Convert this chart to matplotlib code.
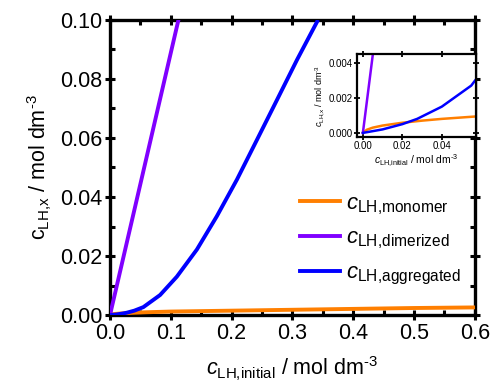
import matplotlib
matplotlib.use("Agg")
import matplotlib.pyplot as plt
from matplotlib.ticker import MultipleLocator, FormatStrFormatter

plt.rcParams['font.family'] = ['Liberation Sans', 'DejaVu Sans']
plt.rcParams['mathtext.fontset'] = 'custom'
plt.rcParams['mathtext.rm'] = 'Liberation Sans'
plt.rcParams['mathtext.it'] = 'Liberation Sans:italic'
plt.rcParams['mathtext.bf'] = 'Liberation Sans:bold'
plt.rcParams['lines.solid_joinstyle'] = 'round'

# Data
x_mono = [0, 0.002, 0.005, 0.01, 0.02, 0.03, 0.04, 0.05, 0.06, 0.1, 0.2, 0.3, 0.4, 0.5, 0.6]
y_mono = [0, 0.00018, 0.0003, 0.00042, 0.00058, 0.0007, 0.0008, 0.00088, 0.00096, 0.0012, 0.0015, 0.0018, 0.0021, 0.0024, 0.0026]

x_dim = [0, 0.1126]
y_dim = [0, 0.100]

x_agg = [0, 0.01, 0.02, 0.0275, 0.04, 0.0549, 0.0824, 0.1099, 0.1429, 0.1758, 0.2088, 0.2418, 0.2747, 0.3077, 0.3407]
y_agg = [0, 0.0002, 0.0005, 0.0008, 0.0015, 0.0027, 0.0068, 0.0130, 0.0222, 0.0335, 0.0459, 0.0594, 0.0729, 0.0865, 0.0994]

labels = [r'$\mathit{c}_{\mathrm{LH{,}monomer}}$',
          r'$\mathit{c}_{\mathrm{LH{,}dimerized}}$',
          r'$\mathit{c}_{\mathrm{LH{,}aggregated}}$']
colors = ['#ff7f00', '#8000ff', '#0000ff']

fig = plt.figure(figsize=(4.91, 3.89), dpi=100)
ax = fig.add_axes([0.224, 0.190, 0.743, 0.759])
lw = 2.8
ax.plot(x_mono, y_mono, color=colors[0], lw=lw, label=labels[0], zorder=3)
ax.plot(x_dim, y_dim, color=colors[1], lw=lw, label=labels[1], zorder=3)
ax.plot(x_agg, y_agg, color=colors[2], lw=lw, label=labels[2], zorder=3)
ax.set_xlim(0, 0.6)
ax.set_ylim(0, 0.1)
ax.xaxis.set_major_locator(MultipleLocator(0.1))
ax.xaxis.set_minor_locator(MultipleLocator(0.05))
ax.yaxis.set_major_locator(MultipleLocator(0.02))
ax.yaxis.set_minor_locator(MultipleLocator(0.01))
ax.xaxis.set_major_formatter(FormatStrFormatter('%.1f'))
ax.yaxis.set_major_formatter(FormatStrFormatter('%.2f'))
for s in ax.spines.values():
    s.set_linewidth(2.4)
ax.tick_params(which='major', direction='inout', length=7, width=2.2, labelsize=15.5,
               top=True, right=True, pad=2)
ax.tick_params(which='minor', direction='in', length=3.5, width=2.2, top=True, right=True)
ax.set_xlabel(r'$\mathit{c}_{\mathrm{LH{,}initial}}$ / mol dm$^{\text{-3}}$', fontsize=15.5, labelpad=8)
ax.set_ylabel(r'c$_{\mathrm{LH{,}x}}$ / mol dm$^{\text{-3}}$', fontsize=15.5, labelpad=4)

leg = ax.legend(loc='lower right', bbox_to_anchor=(1.0, 0.05), frameon=False, fontsize=16,
                handlelength=1.8, handletextpad=0.3, labelspacing=0.5, borderaxespad=0.2)

# Inset
ins = fig.add_axes([0.727, 0.648, 0.242, 0.213])
ins.plot(x_mono, y_mono, color=colors[0], lw=1.8)
ins.plot(x_dim, y_dim, color=colors[1], lw=1.8)
ins.plot(x_agg, y_agg, color=colors[2], lw=1.8)
ins.set_xlim(-0.003, 0.0572)
ins.set_ylim(-0.00023, 0.0045)
ins.xaxis.set_major_locator(MultipleLocator(0.02))
ins.yaxis.set_major_locator(MultipleLocator(0.002))
ins.xaxis.set_major_formatter(FormatStrFormatter('%.2f'))
ins.yaxis.set_major_formatter(FormatStrFormatter('%.3f'))
for s in ins.spines.values():
    s.set_linewidth(1.6)
ins.tick_params(which='major', direction='inout', length=4, width=1.3, labelsize=7, pad=1,
                top=True, right=True)
ins.set_xlabel(r'$\mathit{c}_{\mathrm{LH{,}initial}}$ / mol dm$^{\text{-3}}$', fontsize=7.5, labelpad=1)
ins.set_ylabel(r'$\mathit{c}_{\mathrm{LH{,}x}}$ / mol dm$^{\text{-3}}$', fontsize=6.5, labelpad=1)

fig.savefig('out.png', dpi=100)
